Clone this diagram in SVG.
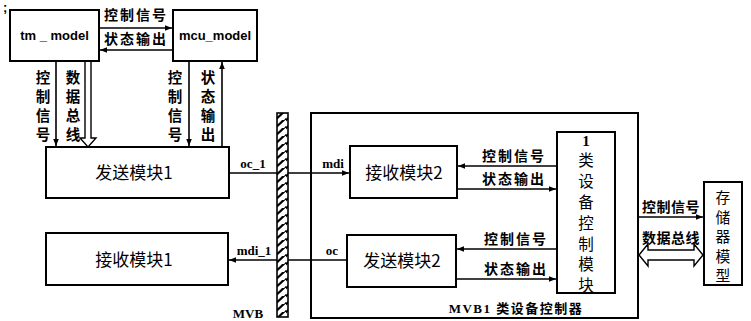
<svg xmlns="http://www.w3.org/2000/svg" width="751" height="321" viewBox="0 0 751 321">
<defs>
<style>
.box{fill:#fff;stroke:#000;stroke-width:2}
.ln{stroke:#000;stroke-width:1.6;fill:none}
.lb{font-family:"Noto Sans CJK SC","Noto Sans",sans-serif;font-weight:bold;font-size:14px;letter-spacing:2px;fill:#000}
.vl{font-family:"Noto Sans CJK SC","Noto Sans",sans-serif;font-weight:bold;font-size:14.5px;fill:#000}
.nm{font-family:"Noto Sans CJK SC","Noto Sans",sans-serif;font-size:17px;fill:#000}
.vc{font-family:"Noto Sans CJK SC","Noto Sans",sans-serif;font-size:15.5px;fill:#000}
.vm{font-family:"Noto Sans CJK SC","Noto Sans",sans-serif;font-size:14.8px;fill:#000}
.en{font-family:"Liberation Sans",sans-serif;font-weight:bold;font-size:13px;fill:#000}
.sf{font-family:"Liberation Serif",serif;font-weight:bold;font-size:13px;fill:#000}
.hol{fill:#fff;stroke:#000;stroke-width:1.4}
</style>
<marker id="ah" viewBox="0 0 10 10" refX="10" refY="5" markerWidth="9" markerHeight="7" markerUnits="userSpaceOnUse" orient="auto">
<path d="M0,1 L10,5 L0,9 Z" fill="#000"/>
</marker>
<pattern id="hatch" width="11" height="8" patternUnits="userSpaceOnUse">
<rect width="11" height="8" fill="#fff"/>
<path d="M-2,10 L12,-3 M-2,2 L4,-4 M7,12 L15,3" stroke="#000" stroke-width="2.2"/>
</pattern>
</defs>
<text x="3" y="12" class="en" font-size="10">;</text>

<g id="connectors">
<line class="ln" x1="99" y1="28" x2="172" y2="28" marker-end="url(#ah)"/>
<line class="ln" x1="173" y1="50" x2="100" y2="50" marker-end="url(#ah)"/>
<line class="ln" x1="56" y1="61" x2="56" y2="146" marker-end="url(#ah)"/>
<path class="hol" d="M85,61 L85,138 L80,138 L88,147 L96,138 L91,138 L91,61"/>
<line class="ln" x1="189" y1="61" x2="189" y2="146" marker-end="url(#ah)"/>
<line class="ln" x1="222" y1="147" x2="222" y2="62" marker-end="url(#ah)"/>
<line class="ln" x1="229" y1="173" x2="349" y2="173" marker-end="url(#ah)"/>
<line class="ln" x1="347" y1="260" x2="229" y2="260" marker-end="url(#ah)"/>
<line class="ln" x1="557" y1="166" x2="458" y2="166" marker-end="url(#ah)"/>
<line class="ln" x1="457" y1="189" x2="556" y2="189" marker-end="url(#ah)"/>
<line class="ln" x1="557" y1="249" x2="457" y2="249" marker-end="url(#ah)"/>
<line class="ln" x1="456" y1="279" x2="556" y2="279" marker-end="url(#ah)"/>
<line class="ln" x1="638" y1="217" x2="703" y2="217" marker-end="url(#ah)"/>
<path class="hol" d="M639,255 L648,244 L648,250 L694,250 L694,244 L703,255 L694,266 L694,260 L648,260 L648,266 Z"/>
</g>

<g id="tm_model">
<rect class="box" x="10" y="10" width="89" height="51"/>
<text class="en" x="54.5" y="40" text-anchor="middle">tm _ model</text>
</g>
<g id="mcu_model">
<rect class="box" x="173" y="10" width="84" height="51"/>
<text class="en" x="215" y="40" text-anchor="middle">mcu_model</text>
</g>

<g id="labels-top">
<text class="lb" x="136" y="20" text-anchor="middle">控制信号</text>
<text class="lb" x="136" y="44" text-anchor="middle">状态输出</text>
<g class="vl" text-anchor="middle">
<text x="43" y="83">控</text><text x="43" y="102">制</text><text x="43" y="121">信</text><text x="43" y="140">号</text>
<text x="73" y="83">数</text><text x="73" y="102">据</text><text x="73" y="121">总</text><text x="73" y="140">线</text>
<text x="175" y="83">控</text><text x="175" y="102">制</text><text x="175" y="121">信</text><text x="175" y="140">号</text>
<text x="208" y="83">状</text><text x="208" y="102">态</text><text x="208" y="121">输</text><text x="208" y="140">出</text>
</g>
</g>

<g id="send1">
<rect class="box" x="46" y="147" width="183" height="51"/>
<text class="nm" x="134" y="179" text-anchor="middle">发送模块1</text>
</g>
<g id="recv1">
<rect class="box" x="46" y="233" width="182" height="52"/>
<text class="nm" x="134" y="266" text-anchor="middle">接收模块1</text>
</g>

<g id="mvb">
<rect x="277" y="113" width="11" height="204" fill="url(#hatch)" stroke="#000" stroke-width="1.6"/>
<text class="sf" x="248" y="318" text-anchor="middle">MVB</text>
</g>
<text class="sf" x="253" y="168" text-anchor="middle">oc_1</text>
<text class="sf" x="254" y="255" text-anchor="middle">mdi_1</text>
<text class="sf" x="333" y="168" text-anchor="middle">mdi</text>
<text class="sf" x="332" y="255" text-anchor="middle">oc</text>

<g id="mvb1-controller">
<rect x="311" y="113" width="327" height="205" fill="none" stroke="#000" stroke-width="2"/>
<text class="sf" x="516" y="313" text-anchor="middle" font-size="16" font-weight="normal" letter-spacing="1.5">MVB1 <tspan font-family="Noto Sans CJK SC, sans-serif">类设备控制器</tspan></text>
</g>

<g id="recv2">
<rect class="box" x="350" y="146" width="107" height="52"/>
<text class="nm" x="404" y="179" text-anchor="middle">接收模块2</text>
</g>
<g id="send2">
<rect class="box" x="347" y="235" width="109" height="52"/>
<text class="nm" x="402" y="267" text-anchor="middle">发送模块2</text>
</g>

<g class="lb" text-anchor="middle">
<text x="514" y="161">控制信号</text>
<text x="514" y="184">状态输出</text>
<text x="516" y="244">控制信号</text>
<text x="516" y="274">状态输出</text>
<text x="671" y="212" letter-spacing="0.5">控制信号</text>
<text x="671" y="243" letter-spacing="0.5">数据总线</text>
</g>

<g id="ctrl-module">
<rect class="box" x="557" y="132" width="58" height="161"/>
<g class="vc" text-anchor="middle">
<text x="586" y="146" font-family="Liberation Serif, serif" font-weight="bold" font-size="15">1</text>
<text x="586" y="166">类</text><text x="586" y="187">设</text><text x="586" y="208">备</text>
<text x="586" y="229">控</text><text x="586" y="250">制</text><text x="586" y="270">模</text><text x="586" y="291">块</text>
</g>
</g>

<g id="memory">
<rect class="box" x="704" y="182" width="38" height="103"/>
<g class="vm" text-anchor="middle">
<text x="723" y="203">存</text><text x="723" y="222.5">储</text><text x="723" y="242">器</text><text x="723" y="261.5">模</text><text x="723" y="281">型</text>
</g>
</g>
</svg>
